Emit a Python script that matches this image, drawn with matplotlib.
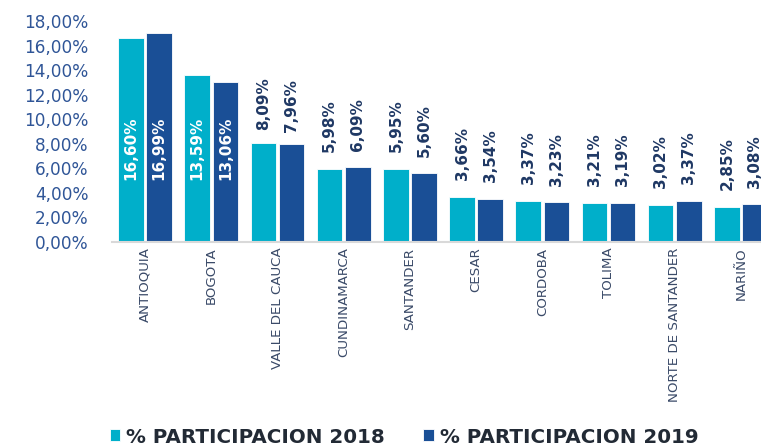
import matplotlib.pyplot as plt
import numpy as np

departamentos = ["ANTIOQUIA", "BOGOTA", "VALLE DEL CAUCA", "CUNDINAMARCA", "SANTANDER",
                 "CESAR", "CORDOBA", "TOLIMA", "NORTE DE SANTANDER", "NARIÑO"]
part_2018 = [16.60, 13.59, 8.09, 5.98, 5.95, 3.66, 3.37, 3.21, 3.02, 2.85]
part_2019 = [16.99, 13.06, 7.96, 6.09, 5.60, 3.54, 3.23, 3.19, 3.37, 3.08]
series_names = ["% PARTICIPACION 2018", "% PARTICIPACION 2019"]

color_2018 = "#00AFCA"
color_2019 = "#1A4F96"
label_color = "#1F3864"


def fmt(v):
    return f"{v:.2f}%".replace(".", ",")


fig = plt.figure(figsize=(7.61, 4.48), dpi=100)
ax = fig.add_axes([112 / 761, 1 - 242 / 448, 662 / 761, 221 / 448])

x = np.arange(len(departamentos))
w = 0.385
gap = 0.04
bars = []
for vals, col, off in [(part_2018, color_2018, -(w + gap) / 2), (part_2019, color_2019, (w + gap) / 2)]:
    b = ax.bar(x + off, vals, w, color=col, edgecolor="white", linewidth=0.6)
    bars.append(b)
    for xi, v in zip(x + off, vals):
        if v > 10:
            ax.text(xi, 7.6, fmt(v), rotation=90, ha="center", va="center",
                    color="white", fontsize=11, fontweight="bold")
        else:
            ax.annotate(fmt(v), (xi, v), xytext=(0, 9 if v > 7 else 12),
                        textcoords="offset points",
                        rotation=90, ha="center", va="bottom",
                        color=label_color, fontsize=11, fontweight="bold")

ax.set_xlim(-0.5, len(departamentos) - 0.5)
ax.set_ylim(0, 18)
ax.set_yticks(np.arange(0, 19, 2))
ax.set_yticklabels([fmt(v) for v in np.arange(0, 19, 2)], fontsize=12.2, color="#2F5597")
ax.set_xticks(x)
ax.set_xticklabels(departamentos, rotation=90, fontsize=9.6, color="#3A4A68")
ax.tick_params(axis="y", length=0, pad=17)
ax.tick_params(axis="x", length=0, pad=4)
for s in ["top", "right", "left"]:
    ax.spines[s].set_visible(False)
ax.spines["bottom"].set_color("#D9D9D9")
ax.spines["bottom"].set_linewidth(1.5)

leg = fig.legend(bars, series_names, loc="center", bbox_to_anchor=(404 / 761, 1 - 437 / 448),
                 ncol=2, frameon=False, handlelength=0.55, handleheight=0.55,
                 handletextpad=0.3, columnspacing=1.9,
                 prop={"size": 14.3, "weight": "bold"})
for t in leg.get_texts():
    t.set_color("#222A35")

fig.savefig("out.png", dpi=100)
